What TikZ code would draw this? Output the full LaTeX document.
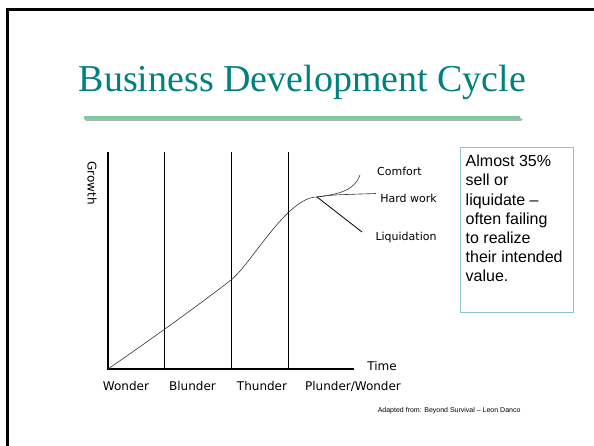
\documentclass[tikz,border=0pt]{standalone}
\usepackage{fontspec}
\setmainfont{Liberation Serif}
\newfontfamily\handfont{DejaVu Sans}
\newfontfamily\plainfont{Liberation Sans}
\usetikzlibrary{positioning}
\definecolor{titleteal}{RGB}{0,128,127}
\definecolor{rulegreen}{RGB}{128,200,160}
\definecolor{boxblue}{RGB}{140,196,204}

\begin{document}
\begin{tikzpicture}[x=1pt, y=-1pt,
		axis/.style = {line width=1.1pt},
		phase/.style = {line width=0.9pt},
		curve/.style = {line width=0.6pt, black!80},
		stage/.style = {font=\handfont\fontsize{12}{14}\selectfont, anchor=base},
		branch/.style = {font=\handfont\fontsize{11}{13}\selectfont, anchor=base},
		notebox/.style = {rectangle, draw=boxblue, line width=1.1pt, minimum width=113pt, minimum height=165pt, anchor=north west},
		notetext/.style = {font=\plainfont\fontsize{16}{19.2}\selectfont, align=left, inner sep=0pt, anchor=north west},
	]

	\useasboundingbox (0,0) rectangle (594,446);
	\clip (0,0) rectangle (594,446);

	% slide frame and title
	\draw[line width=3pt] (7.5,10) rectangle (620,470);
	\node[font=\fontsize{38}{44}\selectfont, text=titleteal, anchor=base] (title) at (302.5,91.7) {Business Development Cycle};
	\draw[line width=3pt, black!30, line cap=round] (86,120) -- (521,120);
	\draw[line width=3.5pt, rulegreen] (84,117.7) -- (520,117.7);

	% axes and phases
	\coordinate (O) at (108,369);
	\coordinate (ytop) at (108,152);
	\coordinate (xend) at (354,369);
	\draw[axis] (ytop) -- (O) -- (xend);
	\foreach \x in {164,231,288}
		\draw[phase] (\x,152) -- (\x,369);

	\node[font=\handfont\fontsize{12}{14}\selectfont, rotate=-90] (growth) at (92,183) {Growth};
	\node[stage] (time) at (382,370) {Time};
	\node[stage] (wonder) at (126,390) {Wonder};
	\node[stage] (blunder) at (192.5,390) {Blunder};
	\node[stage] (thunder) at (262,390) {Thunder};
	\node[stage] (plunder) at (353,390) {Plunder/Wonder};

	% growth curve and the three outcomes
	\coordinate (M) at (231,280);
	\coordinate (BR) at (317,197);
	\draw[curve] (O) .. controls (140,347) and (195,308) .. (M)
		.. controls (251,264.4) and (287,197) .. (BR);
	\coordinate (C) at (360,175);
	\coordinate (H) at (376,193.5);
	\coordinate (L) at (362,232);
	\draw[curve] (BR) .. controls (342,194) and (355,189) .. (C);
	\draw[curve] (BR) .. controls (330,195) .. (H);
	\draw[curve, line width=0.8pt, black] (BR) -- (L);

	\node[branch] (comfort) at (399.5,176) {Comfort};
	\node[branch] (hard) at (408.5,203) {Hard work};
	\node[branch] (liquid) at (406,241) {Liquidation};

	% side note
	\node[notebox] (note) at (460,147) {};
	\node[notetext] (notetext) at (465.5,155) {Almost 35\%\\sell or\\liquidate –\\often failing\\to realize\\their intended\\value.};

	\node[font=\plainfont\fontsize{7}{8}\selectfont, anchor=east] (source) at (524,411) {Adapted from: Beyond Survival – Leon Danco};
\end{tikzpicture}
\end{document}
